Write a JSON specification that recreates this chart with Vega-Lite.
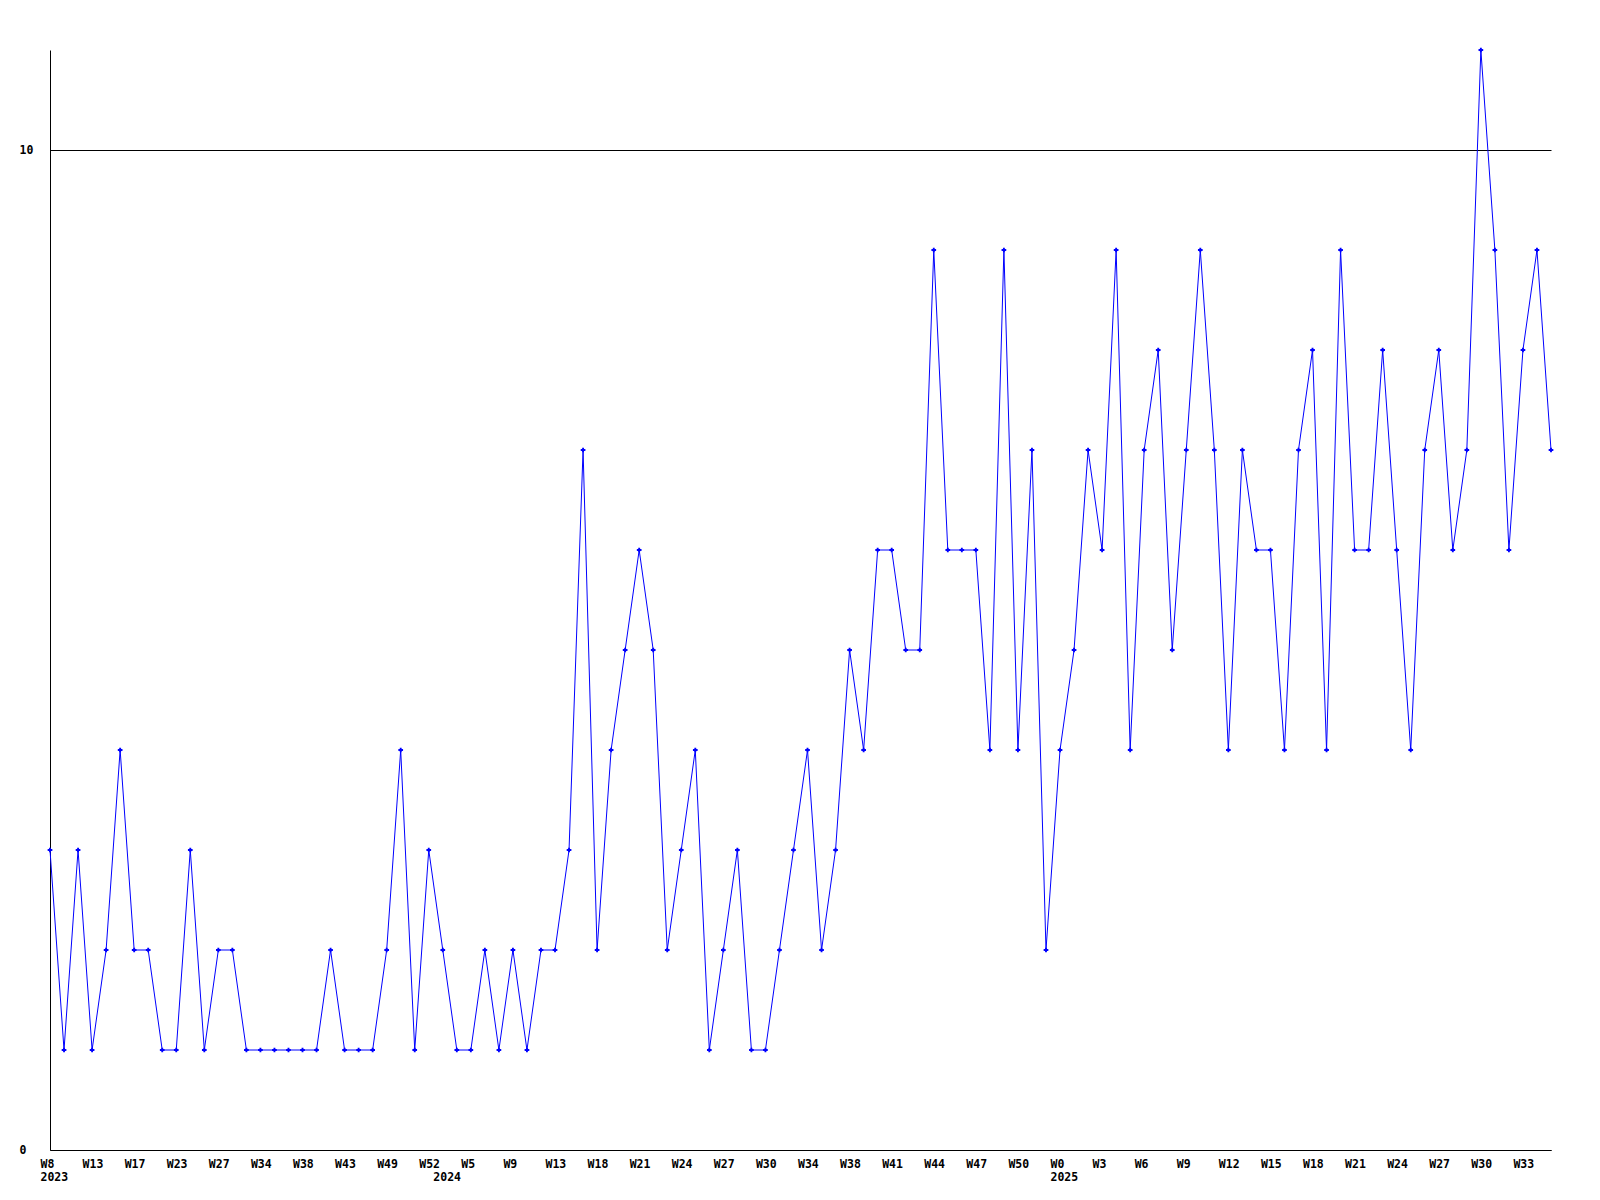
{
  "$schema": "https://vega.github.io/schema/vega-lite/v6.json",
  "autosize": {"type": "none"},
  "padding": {"left": 50, "top": 50, "right": 49, "bottom": 50},
  "width": 1501,
  "height": 1100,
  "background": "white",
  "config": {
    "view": {"stroke": null},
    "axis": {
      "labelFont": "DejaVu Sans Mono",
      "labelFontWeight": "bold",
      "labelFontSize": 11.5,
      "labelColor": "black",
      "ticks": false,
      "tickSize": 0,
      "title": null,
      "domainColor": "black",
      "domainWidth": 1
    }
  },
  "data": {"values": [
    {"yw": "2023 W8", "n": 3}, {"yw": "2023 W10", "n": 1}, {"yw": "2023 W11", "n": 3}, {"yw": "2023 W13", "n": 1},
    {"yw": "2023 W14", "n": 2}, {"yw": "2023 W15", "n": 4}, {"yw": "2023 W17", "n": 2}, {"yw": "2023 W19", "n": 2},
    {"yw": "2023 W21", "n": 1}, {"yw": "2023 W23", "n": 1}, {"yw": "2023 W24", "n": 3}, {"yw": "2023 W25", "n": 1},
    {"yw": "2023 W27", "n": 2}, {"yw": "2023 W29", "n": 2}, {"yw": "2023 W32", "n": 1}, {"yw": "2023 W34", "n": 1},
    {"yw": "2023 W35", "n": 1}, {"yw": "2023 W36", "n": 1}, {"yw": "2023 W38", "n": 1}, {"yw": "2023 W40", "n": 1},
    {"yw": "2023 W41", "n": 2}, {"yw": "2023 W43", "n": 1}, {"yw": "2023 W45", "n": 1}, {"yw": "2023 W47", "n": 1},
    {"yw": "2023 W49", "n": 2}, {"yw": "2023 W50", "n": 4}, {"yw": "2023 W51", "n": 1}, {"yw": "2023 W52", "n": 3},
    {"yw": "2024 W1", "n": 2}, {"yw": "2024 W3", "n": 1}, {"yw": "2024 W5", "n": 1}, {"yw": "2024 W6", "n": 2},
    {"yw": "2024 W8", "n": 1}, {"yw": "2024 W9", "n": 2}, {"yw": "2024 W10", "n": 1}, {"yw": "2024 W11", "n": 2},
    {"yw": "2024 W13", "n": 2}, {"yw": "2024 W15", "n": 3}, {"yw": "2024 W17", "n": 7}, {"yw": "2024 W18", "n": 2},
    {"yw": "2024 W19", "n": 4}, {"yw": "2024 W20", "n": 5}, {"yw": "2024 W21", "n": 6}, {"yw": "2024 W22", "n": 5},
    {"yw": "2024 W23", "n": 2}, {"yw": "2024 W24", "n": 3}, {"yw": "2024 W25", "n": 4}, {"yw": "2024 W26", "n": 1},
    {"yw": "2024 W27", "n": 2}, {"yw": "2024 W28", "n": 3}, {"yw": "2024 W29", "n": 1}, {"yw": "2024 W30", "n": 1},
    {"yw": "2024 W31", "n": 2}, {"yw": "2024 W33", "n": 3}, {"yw": "2024 W34", "n": 4}, {"yw": "2024 W35", "n": 2},
    {"yw": "2024 W36", "n": 3}, {"yw": "2024 W38", "n": 5}, {"yw": "2024 W39", "n": 4}, {"yw": "2024 W40", "n": 6},
    {"yw": "2024 W41", "n": 6}, {"yw": "2024 W42", "n": 5}, {"yw": "2024 W43", "n": 5}, {"yw": "2024 W44", "n": 9},
    {"yw": "2024 W45", "n": 6}, {"yw": "2024 W46", "n": 6}, {"yw": "2024 W47", "n": 6}, {"yw": "2024 W48", "n": 4},
    {"yw": "2024 W49", "n": 9}, {"yw": "2024 W50", "n": 4}, {"yw": "2024 W51", "n": 7}, {"yw": "2024 W52", "n": 2},
    {"yw": "2025 W0", "n": 4}, {"yw": "2025 W1", "n": 5}, {"yw": "2025 W2", "n": 7}, {"yw": "2025 W3", "n": 6},
    {"yw": "2025 W4", "n": 9}, {"yw": "2025 W5", "n": 4}, {"yw": "2025 W6", "n": 7}, {"yw": "2025 W7", "n": 8},
    {"yw": "2025 W8", "n": 5}, {"yw": "2025 W9", "n": 7}, {"yw": "2025 W10", "n": 9}, {"yw": "2025 W11", "n": 7},
    {"yw": "2025 W12", "n": 4}, {"yw": "2025 W13", "n": 7}, {"yw": "2025 W14", "n": 6}, {"yw": "2025 W15", "n": 6},
    {"yw": "2025 W16", "n": 4}, {"yw": "2025 W17", "n": 7}, {"yw": "2025 W18", "n": 8}, {"yw": "2025 W19", "n": 4},
    {"yw": "2025 W20", "n": 9}, {"yw": "2025 W21", "n": 6}, {"yw": "2025 W22", "n": 6}, {"yw": "2025 W23", "n": 8},
    {"yw": "2025 W24", "n": 6}, {"yw": "2025 W25", "n": 4}, {"yw": "2025 W26", "n": 7}, {"yw": "2025 W27", "n": 8},
    {"yw": "2025 W28", "n": 6}, {"yw": "2025 W29", "n": 7}, {"yw": "2025 W30", "n": 11}, {"yw": "2025 W31", "n": 9},
    {"yw": "2025 W32", "n": 6}, {"yw": "2025 W33", "n": 8}, {"yw": "2025 W34", "n": 9}, {"yw": "2025 W35", "n": 7}
  ]},
  "encoding": {
    "y": {
      "field": "n",
      "type": "quantitative",
      "scale": {"domain": [0, 11], "nice": false, "zero": true},
      "axis": {
        "values": [0, 10],
        "grid": true,
        "gridColor": "black",
        "gridOpacity": 1,
        "gridWidth": 1,
        "labelAlign": "left",
        "labelBaseline": "middle",
        "labelPadding": 31
      }
    }
  },
  "layer": [
    {
      "mark": {"type": "line", "color": "#0000ff", "strokeWidth": 1, "interpolate": "linear"},
      "encoding": {
        "x": {
          "field": "yw",
          "type": "ordinal",
          "sort": null,
          "scale": {"type": "point", "padding": 0},
          "axis": {
            "orient": "bottom",
            "values": ["2023 W8", "2023 W13", "2023 W17", "2023 W23", "2023 W27", "2023 W34", "2023 W38", "2023 W43", "2023 W49", "2023 W52",
                       "2024 W5", "2024 W9", "2024 W13", "2024 W18", "2024 W21", "2024 W24", "2024 W27", "2024 W30", "2024 W34", "2024 W38",
                       "2024 W41", "2024 W44", "2024 W47", "2024 W50", "2025 W0", "2025 W3", "2025 W6", "2025 W9", "2025 W12", "2025 W15",
                       "2025 W18", "2025 W21", "2025 W24", "2025 W27", "2025 W30", "2025 W33"],
            "labelExpr": "split(datum.value, ' ')[1]",
            "labelAngle": 0,
            "labelAlign": "left",
            "labelBaseline": "top",
            "labelOffset": -10,
            "labelPadding": 8,
            "labelOverlap": false,
            "grid": false
          }
        }
      }
    },
    {
      "mark": {"type": "point", "shape": "cross", "filled": true, "color": "#0000ff", "size": 22, "opacity": 1},
      "encoding": {
        "x": {
          "field": "yw",
          "type": "ordinal",
          "sort": null,
          "scale": {"type": "point", "padding": 0},
          "axis": {
            "orient": "bottom",
            "values": ["2023 W8", "2024 W1", "2025 W0"],
            "labelExpr": "split(datum.value, ' ')[0]",
            "labelAngle": 0,
            "labelAlign": "left",
            "labelBaseline": "top",
            "labelOffset": -10,
            "labelPadding": 21,
            "labelOverlap": false,
            "domain": false,
            "grid": false
          }
        }
      }
    }
  ],
  "resolve": {"axis": {"x": "independent"}}
}
